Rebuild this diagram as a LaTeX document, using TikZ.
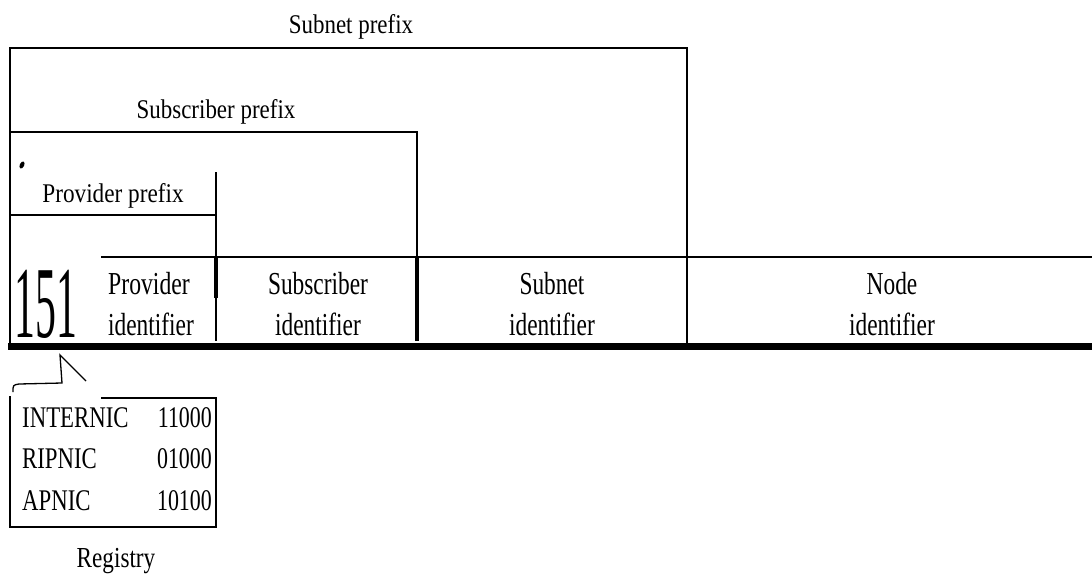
\documentclass[tikz,border=0pt]{standalone}
\usepackage{fontspec}
\usepackage{graphicx}
\setmainfont{Liberation Serif}
\newcommand{\nx}[2]{\scalebox{#1}[1]{#2}}
\tikzset{
  thin rule/.style={line width=1.3pt, line cap=rect},
  heavy rule/.style={line width=4pt},
  label txt/.style={inner sep=0pt, anchor=base, font=\fontsize{27}{30}\selectfont},
  cell txt/.style={inner sep=0pt, anchor=base, font=\fontsize{32}{36}\selectfont},
  reg txt/.style={inner sep=0pt, anchor=base, font=\fontsize{30}{33}\selectfont},
}
\begin{document}
\begin{tikzpicture}[x=1pt,y=-1pt]
\useasboundingbox (0,0) rectangle (1092,579);

% nested prefix brackets
\draw[thin rule] (10,346) -- (10,48) -- (687,48) -- (687,346);
\draw[thin rule] (10,132) -- (417,132) -- (417,257);
\draw[thin rule] (10,215) -- (216,215);
\draw[thin rule] (216,173) -- (216,340);

% field row
\draw[thin rule] (102,257) -- (1092,257);
\draw[heavy rule] (216,257) -- (216,298);
\draw[heavy rule] (417,257) -- (417,341);
\draw[line width=7pt] (8,346) -- (1092,346);

% small mark
\fill[rotate around={-25:(22,165)}] (22,165) ellipse (2.2pt and 3.8pt);

% labels of the prefixes
\node[label txt] (subnetp) at (351,33) {\nx{0.85}{Subnet prefix}};
\node[label txt] (subscrp) at (216,118) {\nx{0.85}{Subscriber prefix}};
\node[label txt] (provp) at (113,202) {\nx{0.86}{Provider prefix}};

% field contents
\node[inner sep=0pt, anchor=base, font=\fontsize{102}{102}\selectfont] (num) at (46,337) {\nx{0.41}{151}};
\node[cell txt, anchor=base west] (prov1) at (108,294) {\nx{0.74}{Provider}};
\node[cell txt, anchor=base west] (prov2) at (108,335) {\nx{0.73}{identifier}};
\node[cell txt] (sub1) at (318,294) {\nx{0.73}{Subscriber}};
\node[cell txt] (sub2) at (318,335) {\nx{0.73}{identifier}};
\node[cell txt] (snet1) at (552,294) {\nx{0.73}{Subnet}};
\node[cell txt] (snet2) at (552,335) {\nx{0.73}{identifier}};
\node[cell txt] (node1) at (892,294) {\nx{0.73}{Node}};
\node[cell txt] (node2) at (892,335) {\nx{0.73}{identifier}};

% callout pointing at the registry number
\coordinate (tip) at (60,355);
\draw[line width=1.3pt, line join=miter] (13,392) .. controls (13,385) .. (19,384) -- (62,383) -- (tip) -- (86,381);

% registry table
\draw[thin rule] (10,397) -- (10,527) -- (216,527) -- (216,398) -- (102,398);
\node[reg txt, anchor=base west] (r1) at (22,427) {\nx{0.76}{INTERNIC}};
\node[reg txt, anchor=base west] (r2) at (22,468) {\nx{0.76}{RIPNIC}};
\node[reg txt, anchor=base west] (r3) at (22,510) {\nx{0.76}{APNIC}};
\node[reg txt, anchor=base east] (c1) at (212,427) {\nx{0.73}{11000}};
\node[reg txt, anchor=base east] (c2) at (212,468) {\nx{0.73}{01000}};
\node[reg txt, anchor=base east] (c3) at (212,510) {\nx{0.73}{10100}};
\node[inner sep=0pt, anchor=base, font=\fontsize{29}{32}\selectfont] (reg) at (116,567) {\nx{0.8}{Registry}};
\end{tikzpicture}
\end{document}
